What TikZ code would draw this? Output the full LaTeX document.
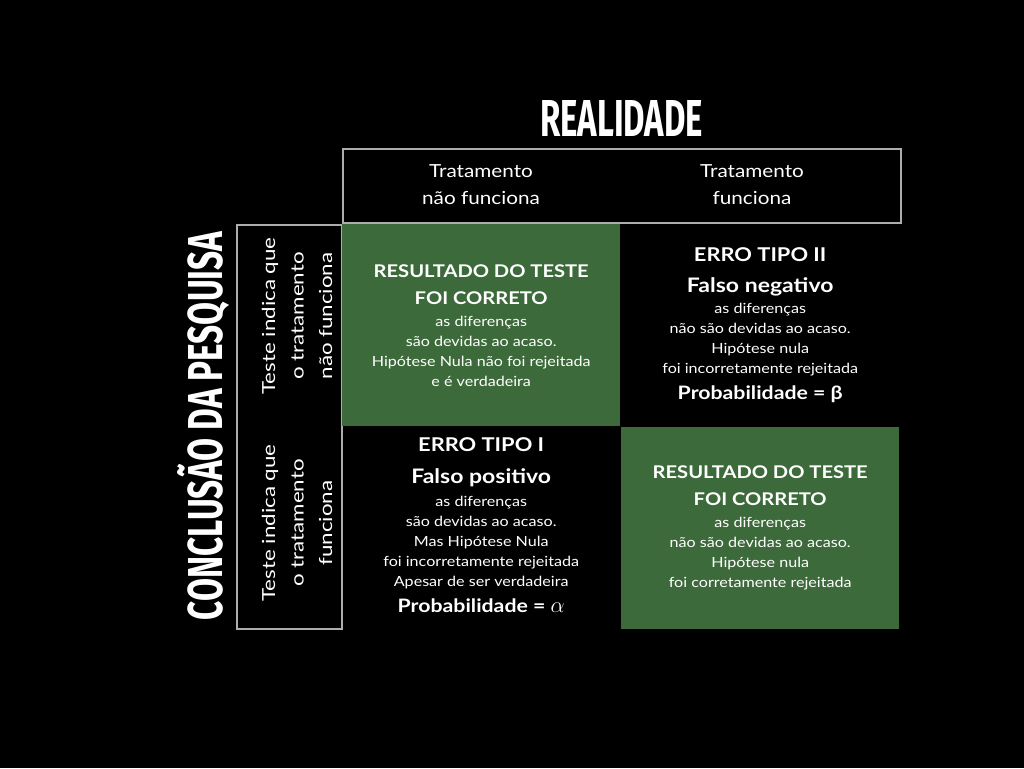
\documentclass[tikz,border=0pt]{standalone}
\usepackage{fontspec}
\usepackage{graphicx}
\setmainfont{Lato}[FakeStretch=1.15]
\newfontfamily\sidefont{Lato}[FakeStretch=1.24]
\newfontfamily\titlefont{Fira Sans}
\definecolor{cellgreen}{HTML}{3D6A3A}
\definecolor{framegray}{HTML}{ADADAD}

\begin{document}
\begin{tikzpicture}[x=1pt,y=-1pt,
  frame/.style={draw=framegray, line width=1.5pt, anchor=north west, inner sep=0pt},
  cell/.style={anchor=north west, inner sep=0pt, minimum width=278pt, minimum height=202pt,
    text=white, align=center, font=\fontsize{14}{20}\selectfont},
  head/.style={text=white, align=center, inner sep=0pt, font=\fontsize{18}{27}\selectfont},
  side/.style={text=white, align=center, inner sep=0pt, rotate=90, font=\sidefont\fontsize{18}{28.5}\selectfont}]
\fill[black] (0,0) rectangle (1024,768);

% titles
\node [text=white, inner sep=0pt] (realidade) at (621.5,118)
  {\resizebox{163pt}{36pt}{\titlefont\bfseries REALIDADE}};
\node [text=white, inner sep=0pt, rotate=90, anchor=base] (conclusao) at (222,426)
  {\resizebox{388pt}{45pt}{\titlefont\bfseries CONCLUSÃO DA PESQUISA}};

% header boxes
\node [frame, minimum width=558pt, minimum height=74pt] (topbox) at (342,148) {};
\node [frame, minimum width=105pt, minimum height=404pt] (leftbox) at (236,224) {};
\node [head] (h1) at (481,185) {Tratamento\\não funciona};
\node [head] (h2) at (752,185) {Tratamento\\funciona};
\node [side] (s1) at (297,316) {Teste indica que\\o tratamento\\não funciona};
\node [side] (s2) at (297,523) {Teste indica que\\o tratamento\\funciona};

% cells
\node [cell, fill=cellgreen] (c11) at (342,224)
  {{\fontsize{17.5}{20}\selectfont\bfseries RESULTADO DO TESTE}\\[7pt]
   {\fontsize{17.5}{20}\selectfont\bfseries FOI CORRETO}\\[2pt]
   as diferenças\\ são devidas ao acaso.\\ Hipótese Nula não foi rejeitada\\ e é verdadeira};
\node [cell] (c12) at (621,224)
  {{\fontsize{19}{20}\selectfont\bfseries ERRO TIPO II}\\[11pt]
   {\fontsize{20}{20}\selectfont\bfseries Falso negativo}\\[1pt]
   as diferenças\\ não são devidas ao acaso.\\ Hipótese nula\\ foi incorretamente rejeitada\\[6pt]
   {\fontsize{18.5}{20}\selectfont\bfseries Probabilidade = β}};
\node [cell, yshift=3pt] (c21) at (342,427)
  {{\fontsize{19}{20}\selectfont\bfseries ERRO TIPO I}\\[12pt]
   {\fontsize{20}{20}\selectfont\bfseries Falso positivo}\\[3pt]
   as diferenças\\ são devidas ao acaso.\\ Mas Hipótese Nula\\ foi incorretamente rejeitada\\ Apesar de ser verdadeira\\[6pt]
   {\fontsize{18.5}{20}\selectfont\bfseries Probabilidade = \scalebox{1.3}{$\alpha$}}};
\node [cell, fill=cellgreen] (c22) at (621,427)
  {{\fontsize{17.5}{20}\selectfont\bfseries RESULTADO DO TESTE}\\[7pt]
   {\fontsize{17.5}{20}\selectfont\bfseries FOI CORRETO}\\[2pt]
   as diferenças\\ não são devidas ao acaso.\\ Hipótese nula\\ foi corretamente rejeitada};
\end{tikzpicture}
\end{document}
